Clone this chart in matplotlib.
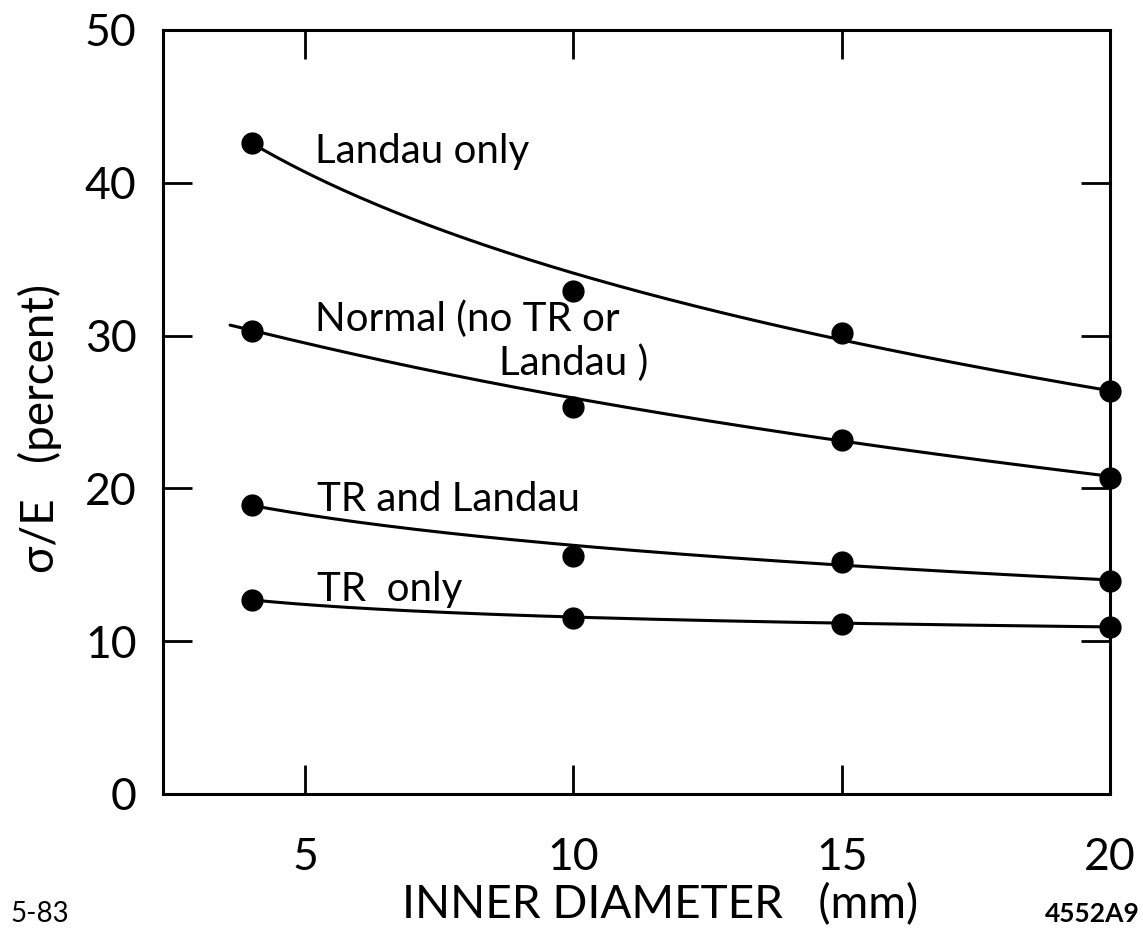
import numpy as np
import matplotlib
matplotlib.use("Agg")
import matplotlib.pyplot as plt

# ---- data ----
diam = [4, 10, 15, 20]
landau_only = [42.6, 32.9, 30.2, 26.4]
normal = [30.3, 25.3, 23.2, 20.7]
tr_and_landau = [18.9, 15.6, 15.2, 13.95]
tr_only = [12.7, 11.5, 11.1, 10.9]

# smooth hand-drawn curves
landau_curve_x = [4, 10, 15, 20]
landau_curve_y = [42.6, 34.1, 29.7, 26.4]
normal_curve_x = [3.6, 10, 15, 20]
normal_curve_y = [30.7, 25.8, 23.3, 20.7]
trl_curve_x = [4, 10, 15, 20]
trl_curve_y = [18.9, 16.2, 15.1, 13.95]
tro_curve_x = [4, 10, 15, 20]
tro_curve_y = [12.7, 11.6, 11.15, 10.95]

x_ticks = [5, 10, 15, 20]
y_ticks = [0, 10, 20, 30, 40, 50]

FONT = ["Lato", "DejaVu Sans"]
plt.rcParams["font.family"] = FONT

fig = plt.figure(figsize=(11.43, 9.36), dpi=100)
ax = fig.add_axes([163 / 1143, 1 - 794 / 936, (1110 - 163) / 1143, (794 - 30) / 936])

def smooth(xs, ys):
    lx = np.log(np.asarray(xs, float))
    c = np.polyfit(lx, ys, 2)
    g = np.linspace(min(xs), max(xs), 200)
    return g, np.polyval(c, np.log(g))

for cx, cy in [(landau_curve_x, landau_curve_y), (normal_curve_x, normal_curve_y),
               (trl_curve_x, trl_curve_y), (tro_curve_x, tro_curve_y)]:
    gx, gy = smooth(cx, cy)
    ax.plot(gx, gy, color="black", lw=2.2, solid_capstyle="round", clip_on=False)

for ys in [landau_only, normal, tr_and_landau, tr_only]:
    ax.plot(diam, ys, "o", color="black", ms=15, clip_on=False, zorder=5)

ax.set_xlim(2.35, 20)
ax.set_ylim(0, 50)
ax.set_xticks(x_ticks)
ax.set_xticklabels([str(v) for v in x_ticks])
ax.set_yticks(y_ticks)
ax.set_yticklabels([str(v) for v in y_ticks])
ax.tick_params(axis="both", direction="in", length=21, width=2, labelsize=32,
               top=True, right=True, color="black")
ax.tick_params(axis="x", pad=31)
ax.tick_params(axis="y", pad=19)
for s in ax.spines.values():
    s.set_linewidth(2.2)

ax.set_xlabel("INNER DIAMETER   (mm)", fontsize=33)
ax.xaxis.set_label_coords((660 - 163) / 947, (794 - 905) / 764)
ax.xaxis.label.set_va("center")
ax.set_ylabel("σ/E   (percent)", fontsize=33)
ax.yaxis.set_label_coords((40 - 163) / 947, (794 - 428) / 764)
ax.yaxis.label.set_va("center")

tk = dict(fontsize=29, color="black", transform=ax.transData)
def px(xp, yp):
    # convert reference pixel positions to data coordinates
    return 5 + (xp - 305) / 53.67, (794 - yp) / 15.22

ax.text(*px(315, 165), "Landau only", ha="left", va="baseline", **tk)
ax.text(*px(315, 333), "Normal (no TR or", ha="left", va="baseline", **tk)
ax.text(*px(648, 377), "Landau )", ha="right", va="baseline", **tk)
ax.text(*px(317, 512), "TR and Landau", ha="left", va="baseline", **tk)
ax.text(*px(317, 602), "TR  only", ha="left", va="baseline", **tk)

fig.text(10 / 1143, 1 - 922 / 936, "5-83", fontsize=20, ha="left", va="baseline")
fig.text(1140 / 1143, 1 - 922 / 936, "4552A9", fontsize=19, fontweight="bold",
         ha="right", va="baseline")

fig.savefig("out.png", dpi=100, facecolor="white")
